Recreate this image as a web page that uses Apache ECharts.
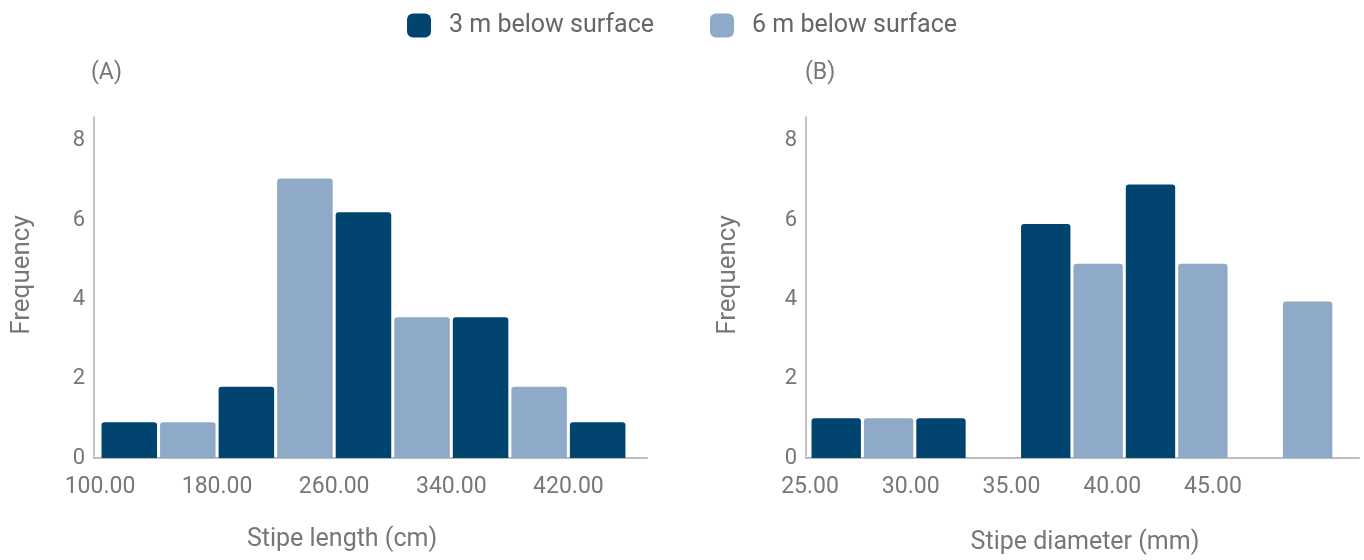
<!DOCTYPE html>
<html>
<head>
<meta charset="utf-8">
<script src="https://cdn.jsdelivr.net/npm/echarts@6/dist/echarts.min.js"></script>
<style>html,body{margin:0;padding:0;background:#fff}#c{width:1364px;height:560px}</style>
</head>
<body>
<div id="c"></div>
<script>
// ---- Data ----
const seriesNames = ['3 m below surface', '6 m below surface'];
// Panel A: stipe length (cm) bins
const lengthEdges = [100, 140, 180, 220, 260, 300, 340, 380, 420, 460];
const length3m = [0.9, null, 1.8, null, 6.2, null, 3.55, null, 0.9];
const length6m = [null, 0.9, null, 7.05, null, 3.55, null, 1.8, null];
const lengthTicks = [100, 180, 260, 340, 420];
// Panel B: stipe diameter (mm) bins
const diamEdges = [25, 27.6, 30.2, 32.8, 35.4, 38, 40.6, 43.2, 45.8, 48.4, 51];
const diam3m = [1, null, 1, null, 5.9, null, 6.9, null, null, null];
const diam6m = [null, 1, null, null, null, 4.9, null, 4.9, null, 3.95];
const diamTicks = [25, 30, 35, 40, 45];
const freqTicks = [0, 2, 4, 6, 8];

const DARK = '#01446f';
const LIGHT = '#8faac8';
const TXT = '#777777';
const FONT = 'Roboto, "DejaVu Sans", sans-serif';

function toBins(edges, vals) {
  const out = [];
  vals.forEach((v, i) => { if (v != null) out.push([edges[i], edges[i + 1], v]); });
  return out;
}
function renderBar(params, api) {
  const x0 = api.value(0), x1 = api.value(1), y = api.value(2);
  const p0 = api.coord([x0, y]);
  const p1 = api.coord([x1, 0]);
  return {
    type: 'rect',
    shape: { x: p0[0] + 1.5, y: p0[1], width: p1[0] - p0[0] - 3, height: p1[1] - p0[1], r: [3, 3, 0, 0] },
    style: { fill: api.visual('color') }
  };
}
function xAxisCfg(idx, min, max, ticks) {
  return {
    type: 'value', gridIndex: idx, min: min, max: max,
    axisLine: { show: true, lineStyle: { color: '#bdbdbd', width: 2 } },
    axisTick: { show: false },
    splitLine: { show: false },
    axisLabel: { customValues: ticks, formatter: v => Number(v).toFixed(2), color: TXT, fontSize: 23, fontFamily: FONT, margin: 18 }
  };
}
function yAxisCfg(idx) {
  return {
    type: 'value', gridIndex: idx, min: 0, max: 8.6,
    axisLine: { show: true, lineStyle: { color: '#b0b0b0', width: 1.5 } },
    axisTick: { show: false },
    splitLine: { show: false },
    axisLabel: { customValues: freqTicks, color: TXT, fontSize: 22, fontFamily: FONT, margin: 9 }
  };
}

const chart = echarts.init(document.getElementById('c'));
chart.setOption({
  animation: false,
  backgroundColor: '#fff',
  legend: {
    top: 8, left: 'center',
    data: seriesNames.map(n => ({ name: n, icon: 'roundRect' })),
    itemWidth: 24, itemHeight: 24, itemGap: 56,
    textStyle: { color: '#666', fontSize: 25, fontFamily: FONT, padding: [0, 0, 0, 13] }
  },
  grid: [
    { left: 94, right: 717, top: 117, bottom: 102 },
    { left: 806, right: 5, top: 117, bottom: 102 }
  ],
  xAxis: [xAxisCfg(0, 95.9, 473.7, lengthTicks), xAxisCfg(1, 24.8, 52.25, diamTicks)],
  yAxis: [yAxisCfg(0), yAxisCfg(1)],
  graphic: [
    { type: 'text', left: 91, top: 62, style: { text: '(A)', fill: TXT, font: '23px ' + FONT } },
    { type: 'text', left: 805, top: 62, style: { text: '(B)', fill: TXT, font: '23px ' + FONT } },
    { type: 'text', x: 342, y: 540, style: { text: 'Stipe length (cm)', fill: TXT, font: '25px ' + FONT, align: 'center', verticalAlign: 'middle' } },
    { type: 'text', x: 1085, y: 543, style: { text: 'Stipe diameter (mm)', fill: TXT, font: '25px ' + FONT, align: 'center', verticalAlign: 'middle' } },
    { type: 'text', x: 22, y: 275, rotation: Math.PI / 2, style: { text: 'Frequency', fill: TXT, font: '26px ' + FONT, align: 'center', verticalAlign: 'middle' } },
    { type: 'text', x: 728, y: 275, rotation: Math.PI / 2, style: { text: 'Frequency', fill: TXT, font: '26px ' + FONT, align: 'center', verticalAlign: 'middle' } }
  ],
  series: [
    { name: seriesNames[0], type: 'custom', xAxisIndex: 0, yAxisIndex: 0, itemStyle: { color: DARK }, renderItem: renderBar, encode: { x: [0, 1], y: 2 }, data: toBins(lengthEdges, length3m) },
    { name: seriesNames[1], type: 'custom', xAxisIndex: 0, yAxisIndex: 0, itemStyle: { color: LIGHT }, renderItem: renderBar, encode: { x: [0, 1], y: 2 }, data: toBins(lengthEdges, length6m) },
    { name: seriesNames[0], type: 'custom', xAxisIndex: 1, yAxisIndex: 1, itemStyle: { color: DARK }, renderItem: renderBar, encode: { x: [0, 1], y: 2 }, data: toBins(diamEdges, diam3m) },
    { name: seriesNames[1], type: 'custom', xAxisIndex: 1, yAxisIndex: 1, itemStyle: { color: LIGHT }, renderItem: renderBar, encode: { x: [0, 1], y: 2 }, data: toBins(diamEdges, diam6m) }
  ]
});
</script>
</body>
</html>
